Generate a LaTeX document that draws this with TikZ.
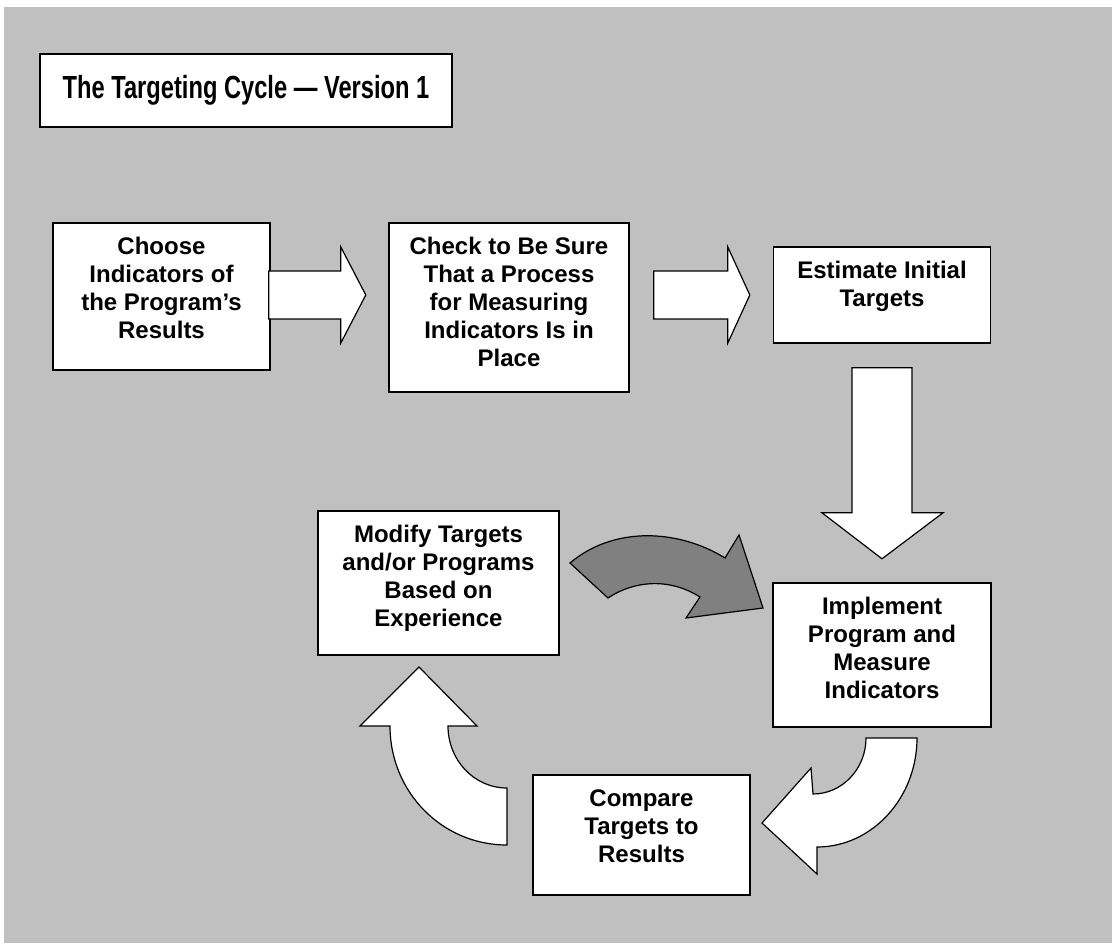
\documentclass[tikz,border=0pt]{standalone}
\usepackage{fontspec}
\setmainfont{Liberation Sans}
\usepackage{tikz}
\usetikzlibrary{calc}
\definecolor{bggray}{HTML}{C0C0C0}
\definecolor{arrgray}{HTML}{808080}
\tikzset{
	box/.style={draw=black, line width=0.8pt, fill=white, shape=rectangle, inner sep=0pt},
	boxtext/.style={anchor=north, align=center, inner sep=0pt, font=\fontsize{12}{14}\selectfont\bfseries},
	blockarrow/.style={draw=black, line width=0.6pt, fill=white, line join=miter},
}
\begin{document}
\begin{tikzpicture}[x=0.5pt, y=-0.5pt]
				% Background:
				\useasboundingbox (0,0) rectangle (1112,945);
				\fill[white] (0,0) rectangle (1112,945);
				\fill[bggray] (4,7) rectangle (1112,943);
				% Boxes and texts:
				\node[box, minimum width=206pt, minimum height=36.5pt](T) at (246,90.5){};
				\node[anchor=center, inner sep=0pt, font=\fontsize{16}{19}\selectfont\bfseries](Tt) at (T.center){\scalebox{0.74}[1]{The Targeting Cycle — Version 1}};
				\node[box, minimum width=108.5pt, minimum height=73.5pt](A) at (161.5,296.5){};
				\node[boxtext](At) at ($(A.north)+(0,15)$){Choose\\Indicators of\\the Program’s\\Results};
				\node[box, minimum width=120pt, minimum height=84.5pt](B) at (509,307.5){};
				\node[boxtext](Bt) at ($(B.north)+(0,15)$){Check to Be Sure\\That a Process\\for Measuring\\Indicators Is in\\Place};
				\node[box, minimum width=108.5pt, minimum height=48pt](C) at (882,295){};
				\node[boxtext](Ct) at ($(C.north)+(0,15)$){Estimate Initial\\Targets};
				\node[box, minimum width=109pt, minimum height=72pt](D) at (882,655){};
				\node[boxtext](Dt) at ($(D.north)+(0,15)$){Implement\\Program and\\Measure\\Indicators};
				\node[box, minimum width=108.5pt, minimum height=60pt](E) at (641.5,835){};
				\node[boxtext](Et) at ($(E.north)+(0,15)$){Compare\\Targets to\\Results};
				\node[box, minimum width=120.5pt, minimum height=72pt](F) at (438.5,583){};
				\node[boxtext](Ft) at ($(F.north)+(0,15)$){Modify Targets\\and/or Programs\\Based on\\Experience};
				% Straight block arrows:
				\draw[blockarrow] ($(A.east)+(-2,-25.5)$) -- ++(72,0) -- ++(0,-24) -- ++(25,48) -- ++(-25,48) -- ++(0,-24) -- ++(-72,0) -- cycle;
				\draw[blockarrow] ($(B.east)+(24,-36.5)$) -- ++(74,0) -- ++(0,-24) -- ++(22,48) -- ++(-22,48) -- ++(0,-24) -- ++(-74,0) -- cycle;
				\draw[blockarrow] ($(C.south)+(-30,24)$) -- ++(60,0) -- ++(0,145) -- ++(31,0) -- ++(-61,46) -- ++(-60,-46) -- ++(30,0) -- cycle;
				% Curved block arrows:
				\draw[blockarrow, fill=arrgray] (570,563) .. controls (615,525) and (680,530) .. (725,558) -- (739,535) -- (763,608) -- (686,618) -- (700,597) .. controls (670,578) and (635,580) .. (608,598) -- cycle;
				\draw[blockarrow] (917,738) -- (866,738) .. controls (866,769) and (842,794) .. (813,794) -- (811,768) -- (762,823) -- (817,874) -- (817,847) .. controls (872,847) and (917,798) .. (917,738) -- cycle;
				\draw[blockarrow] (507,845) -- (507,788) .. controls (474,788) and (448,760) .. (448,726) -- (477,726) -- (419,667) -- (360,726) -- (390,726) .. controls (390,792) and (442,845) .. (507,845) -- cycle;
\end{tikzpicture}
\end{document}
